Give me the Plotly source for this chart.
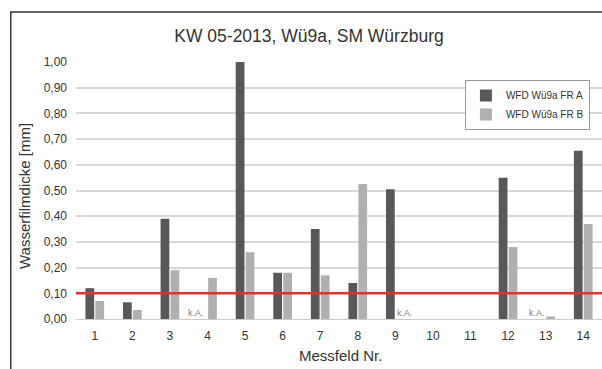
# -*- coding: utf-8 -*-
import plotly.graph_objects as go

# Messfelder und Wasserfilmdicken (None = keine Angabe)
messfeld = list(range(1, 15))
fr_a = [0.12, 0.065, 0.39, None, 1.00, 0.18, 0.35, 0.14, 0.505, None, None, 0.55, None, 0.655]
fr_b = [0.07, 0.035, 0.19, 0.16, 0.26, 0.18, 0.17, 0.525, None, None, None, 0.28, 0.01, 0.37]
grenzwert = 0.10
ka_felder = [4, 9, 13]
ka_shift = [-12, 10, -9]

fig = go.Figure()

fig.add_trace(go.Bar(x=messfeld, y=fr_a, name='WFD Wü9a FR A',
                     marker_color='#58585a', marker_line_width=0))
fig.add_trace(go.Bar(x=messfeld, y=fr_b, name='WFD Wü9a FR B',
                     marker_color='#b0b0b0', marker_line_width=0))

# k.A. Beschriftungen
for feld, dx in zip(ka_felder, ka_shift):
    fig.add_annotation(x=feld, y=0, text='k.A.', showarrow=False,
                       yanchor='bottom', xshift=dx, yshift=-1,
                       font=dict(size=9, color='#808080'))

# Achsentitel
fig.add_annotation(x=(25 - 76) / 526, y=(319 - 196) / 257, xref='paper', yref='paper',
                   text='Wasserfilmdicke [mm]', textangle=-90, showarrow=False,
                   xanchor='center', yanchor='middle', font=dict(size=15))
fig.add_annotation(x=(340 - 76) / 526, y=-(355 - 319) / 257, xref='paper', yref='paper',
                   text='Messfeld Nr.', showarrow=False,
                   xanchor='center', yanchor='middle', font=dict(size=15))

# Grenzwert-Linie
fig.add_shape(type='line', xref='paper', x0=0, x1=1, yref='y', y0=grenzwert, y1=grenzwert,
              line=dict(color='#e0342b', width=2.5))

# Rahmen
fig.add_shape(type='rect', xref='paper', yref='paper', x0=-0.124, x1=1.05, y0=-0.4, y1=1.195,
              line=dict(color='#333333', width=1.5), layer='below')

fig.update_layout(
    width=602, height=369,
    margin=dict(l=76, r=0, t=62, b=50),
    paper_bgcolor='white', plot_bgcolor='white',
    font=dict(family='Liberation Sans, Arial, sans-serif', color='#333333', size=11),
    separators=',.',
    barmode='group', bargap=0.47, bargroupgap=0.12,
    title=dict(text='KW 05-2013, Wü9a, SM Würzburg', x=(309 - 76) / 526, xref='paper',
               xanchor='center', y=0.902, yanchor='middle',
               font=dict(size=17.5, color='#333333')),
    legend=dict(x=0.977, y=0.93, xanchor='right', yanchor='top',
                bgcolor='white', bordercolor='#999999', borderwidth=1,
                font=dict(size=10, color='#333333'),
                itemwidth=30, tracegroupgap=0),
    xaxis=dict(range=[0.5, 14.5], tickmode='array', tickvals=messfeld,
               showline=True, linecolor='#cccccc', linewidth=1,
               showgrid=False, zeroline=False, ticklabelstandoff=6,
               ticks='', tickfont=dict(size=12), automargin=False),
    yaxis=dict(range=[0, 1.0], dtick=0.1, tickformat='.2f',
               showgrid=True, gridcolor='#d8d8d8', gridwidth=1.5,
               zeroline=False, ticks='', tickfont=dict(size=12),
               ticklabelstandoff=8, automargin=False),
)

fig.write_html("out.html", config={'displayModeBar': False},
               post_script="document.body.style.margin='0';")
